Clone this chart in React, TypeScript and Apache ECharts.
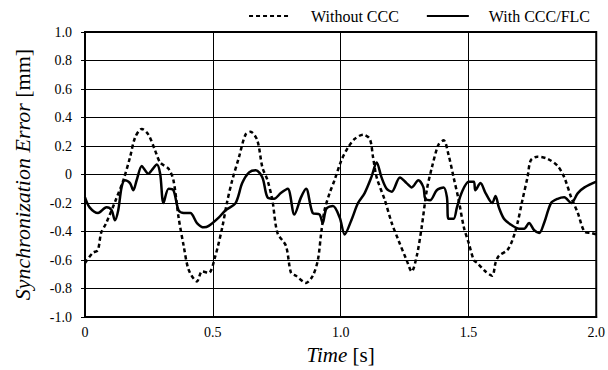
import React, { useEffect, useRef } from "react";
import * as echarts from "echarts";

const withoutCCC: [number, number][] = [
  [0, -0.62], [0.03, -0.55], [0.05, -0.53], [0.063, -0.41], [0.083, -0.34], [0.12, -0.18],
  [0.15, -0.04], [0.176, 0.12], [0.196, 0.26], [0.222, 0.32], [0.248, 0.28], [0.274, 0.17],
  [0.294, 0.085], [0.327, 0.04], [0.346, -0.04], [0.366, -0.3], [0.386, -0.5], [0.406, -0.67],
  [0.438, -0.75], [0.458, -0.68], [0.484, -0.69], [0.51, -0.57], [0.537, -0.37], [0.555, -0.2],
  [0.576, -0.04], [0.602, 0.12], [0.628, 0.28], [0.648, 0.3], [0.674, 0.24], [0.694, 0.05],
  [0.714, -0.04], [0.733, -0.18], [0.753, -0.41], [0.786, -0.5], [0.806, -0.69], [0.825, -0.71],
  [0.865, -0.76], [0.891, -0.71], [0.911, -0.6], [0.924, -0.41], [0.937, -0.25], [0.957, -0.13],
  [0.976, -0.04], [1.003, 0.1], [1.029, 0.19], [1.055, 0.25], [1.088, 0.28], [1.114, 0.25],
  [1.127, 0.12], [1.141, -0.02], [1.173, -0.18], [1.2, -0.34], [1.226, -0.46], [1.258, -0.6],
  [1.278, -0.68], [1.298, -0.57], [1.317, -0.37], [1.337, -0.11], [1.357, 0.05], [1.383, 0.21],
  [1.403, 0.24], [1.422, 0.14], [1.442, -0.02], [1.462, -0.18], [1.482, -0.37], [1.501, -0.48],
  [1.521, -0.6], [1.534, -0.62], [1.567, -0.68], [1.593, -0.71], [1.606, -0.62], [1.619, -0.57],
  [1.652, -0.53], [1.672, -0.46], [1.692, -0.34], [1.711, -0.18], [1.731, -0.02], [1.744, 0.1],
  [1.77, 0.125], [1.81, 0.11], [1.849, 0.06], [1.875, -0.02], [1.902, -0.16], [1.928, -0.27],
  [1.954, -0.4], [1.98, -0.41], [2.0, -0.42],
];

const withCCCFLC: [number, number][] = [
  [0, -0.16], [0.018, -0.23], [0.051, -0.27], [0.084, -0.23], [0.104, -0.25], [0.117, -0.32],
  [0.13, -0.25], [0.143, -0.09], [0.156, -0.04], [0.176, -0.06], [0.189, -0.11], [0.202, -0.04],
  [0.222, 0.06], [0.235, 0.03], [0.248, 0.005], [0.261, 0.03], [0.281, 0.07], [0.294, 0.005],
  [0.307, -0.2], [0.327, -0.1], [0.346, -0.11], [0.366, -0.25], [0.386, -0.27], [0.412, -0.27],
  [0.438, -0.34], [0.465, -0.37], [0.484, -0.36], [0.524, -0.3], [0.55, -0.25], [0.589, -0.2],
  [0.615, -0.06], [0.642, 0.015], [0.668, 0.03], [0.694, -0.02], [0.714, -0.16], [0.74, -0.17],
  [0.766, -0.13], [0.793, -0.1], [0.819, -0.28], [0.845, -0.16], [0.865, -0.1], [0.891, -0.27],
  [0.917, -0.28], [0.93, -0.34], [0.944, -0.24], [0.97, -0.22], [0.996, -0.3], [1.016, -0.42],
  [1.042, -0.32], [1.068, -0.2], [1.094, -0.13], [1.12, -0.02], [1.141, 0.085], [1.16, -0.02],
  [1.18, -0.1], [1.2, -0.12], [1.232, -0.02], [1.258, -0.06], [1.278, -0.09], [1.304, -0.04],
  [1.324, -0.09], [1.331, -0.17], [1.35, -0.18], [1.376, -0.11], [1.403, -0.09], [1.416, -0.16],
  [1.422, -0.31], [1.442, -0.31], [1.455, -0.23], [1.475, -0.12], [1.501, -0.05], [1.521, -0.05],
  [1.527, -0.11], [1.547, -0.06], [1.567, -0.13], [1.593, -0.2], [1.606, -0.15], [1.619, -0.23],
  [1.639, -0.31], [1.665, -0.35], [1.698, -0.38], [1.718, -0.38], [1.737, -0.34], [1.757, -0.39],
  [1.777, -0.41], [1.796, -0.34], [1.823, -0.2], [1.849, -0.17], [1.875, -0.16], [1.902, -0.2],
  [1.928, -0.13], [1.954, -0.09], [2.0, -0.05],
];

const seriesNames = ["Without CCC", "With CCC/FLC"];

const FONT = "'Liberation Serif', 'Times New Roman', serif";

const fmt = (v: number) => (v === 0 ? "0" : v.toFixed(1));

export default function App() {
  const ref = useRef<HTMLDivElement>(null);
  useEffect(() => {
    if (!ref.current) return;
    const chart = echarts.init(ref.current, undefined, { renderer: "svg" });
    chart.setOption({
      animation: false,
      textStyle: { fontFamily: FONT, color: "#000" },
      grid: {
        left: 85, right: 11, top: 32, bottom: 51,
        show: true, borderColor: "#000", borderWidth: 2, backgroundColor: "transparent",
      },
      legend: {
        right: 13, top: 3,
        itemWidth: 42, itemHeight: 10, itemGap: 27,
        itemStyle: { opacity: 0 },
        textStyle: { fontFamily: FONT, fontSize: 16, color: "#000", padding: [0, 0, 0, 15] },
        data: seriesNames,
      },
      xAxis: {
        type: "value", min: 0, max: 2, interval: 0.5,
        axisLine: { show: true, onZero: false, lineStyle: { color: "#000", width: 2 } },
        axisTick: { show: false },
        splitLine: { show: true, lineStyle: { color: "#000", width: 1 } },
        axisLabel: { formatter: fmt, fontFamily: FONT, fontSize: 14, color: "#000", margin: 8 },
        name: "{i|Time} [s]",
        nameLocation: "middle",
        nameGap: 22,
        nameTextStyle: {
          fontFamily: FONT, fontSize: 21, color: "#000", verticalAlign: "top",
          rich: { i: { fontFamily: FONT, fontSize: 21, fontStyle: "italic", color: "#000" } },
        },
      },
      yAxis: {
        type: "value", min: -1, max: 1, interval: 0.2,
        axisLine: { show: true, onZero: false, lineStyle: { color: "#000", width: 2 } },
        axisTick: { show: true, inside: false, length: 4, lineStyle: { color: "#000", width: 1 } },
        splitLine: { show: true, lineStyle: { color: "#000", width: 1 } },
        axisLabel: { formatter: fmt, fontFamily: FONT, fontSize: 14, color: "#000", margin: 13 },
        name: "{i|Synchronization Error} [mm]",
        nameLocation: "middle",
        nameGap: 52,
        nameTextStyle: {
          fontFamily: FONT, fontSize: 22, color: "#000",
          rich: { i: { fontFamily: FONT, fontSize: 22, fontStyle: "italic", color: "#000" } },
        },
      },
      series: [
        {
          name: seriesNames[0], type: "line", data: withoutCCC, smooth: 0.3, symbol: "none",
          lineStyle: { color: "#000", width: 2.5, type: [4, 3] },
          itemStyle: { color: "#000" },
        },
        {
          name: seriesNames[1], type: "line", data: withCCCFLC, smooth: 0.3, symbol: "none",
          lineStyle: { color: "#000", width: 2.5, type: "solid" },
          itemStyle: { color: "#000" },
        },
      ],
    });
    return () => chart.dispose();
  }, []);
  return (
    <div
      ref={ref}
      style={{ position: "fixed", left: 0, top: 0, width: 608, height: 370, background: "#fff" }}
    />
  );
}
